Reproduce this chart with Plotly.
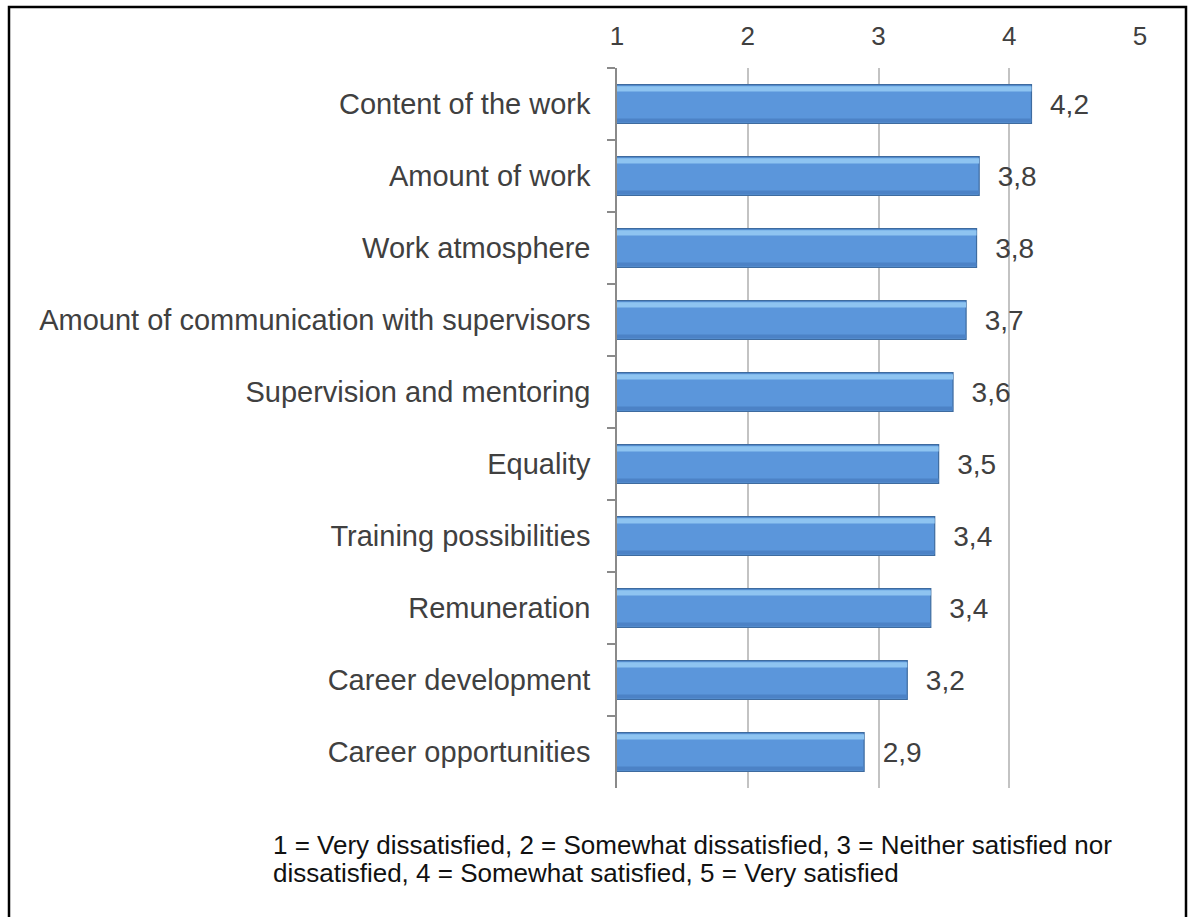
import plotly.graph_objects as go

# Satisfaction items (top to bottom) and mean scores on a 1-5 scale
categories = [
    "Content of the work",
    "Amount of work",
    "Work atmosphere",
    "Amount of communication with supervisors",
    "Supervision and mentoring",
    "Equality",
    "Training possibilities",
    "Remuneration",
    "Career development",
    "Career opportunities",
]
scores = [4.17, 3.77, 3.75, 3.67, 3.57, 3.46, 3.43, 3.40, 3.22, 2.89]

scale_ticks = [1, 2, 3, 4, 5]
footnote_lines = [
    "1 = Very dissatisfied, 2 = Somewhat dissatisfied, 3 = Neither satisfied nor",
    "dissatisfied, 4 = Somewhat satisfied, 5 = Very satisfied",
]

W, H = 1193, 917
ML, MR, MT, MB = 617, 53, 68, 129
PW, PH = W - ML - MR, H - MT - MB
PLOT_BOTTOM = H - MB

FONT = "Liberation Sans, Arial, sans-serif"
TEXT_GREY = "#404040"
BAR_W = 0.54

fig = go.Figure()

# main bar body
fig.add_trace(go.Bar(
    x=scores, y=categories, orientation="h", base=0,
    width=BAR_W, offset=-BAR_W / 2,
    marker=dict(color="#5b96db", line=dict(color="#3e6b9f", width=1.2)),
    texttemplate="\u00a0\u00a0%{x:.1f}", textposition="outside",
    textfont=dict(family=FONT, size=28, color=TEXT_GREY),
    cliponaxis=False, hoverinfo="x+y", showlegend=False,
))
# light bevel along the top edge
fig.add_trace(go.Bar(
    x=scores, y=categories, orientation="h", base=0,
    width=0.07, offset=-BAR_W / 2 + 0.025,
    marker=dict(color="#8ec4f1", line=dict(width=0)),
    hoverinfo="skip", showlegend=False,
))
# darker shade along the bottom edge
fig.add_trace(go.Bar(
    x=scores, y=categories, orientation="h", base=0,
    width=0.05, offset=BAR_W / 2 - 0.07,
    marker=dict(color="#4c82c6", line=dict(width=0)),
    hoverinfo="skip", showlegend=False,
))

# footnote explaining the scale
for i, line in enumerate(footnote_lines):
    fig.add_annotation(
        text=line, xref="paper", yref="paper",
        x=(271 - ML) / PW, y=(PLOT_BOTTOM - 845 - i * 28) / PH,
        xanchor="left", yanchor="middle", showarrow=False,
        font=dict(family=FONT, size=26, color="#111111"),
    )

# outer frame
fig.add_shape(
    type="rect", xref="paper", yref="paper",
    x0=(9 - ML) / PW, x1=(1186 - ML) / PW,
    y0=(PLOT_BOTTOM - 940) / PH, y1=1 + (MT - 7) / PH,
    line=dict(color="#000000", width=2.5), fillcolor="rgba(0,0,0,0)", layer="below",
)

fig.update_layout(
    width=W, height=H,
    margin=dict(l=ML, r=MR, t=MT, b=MB, pad=0),
    paper_bgcolor="white", plot_bgcolor="white",
    barmode="overlay", separators=",.",
    font=dict(family=FONT, color=TEXT_GREY),
    showlegend=False,
)
fig.update_xaxes(
    side="top", range=[1, 5], tickvals=scale_ticks,
    showgrid=True, gridcolor="#c3c3c3", gridwidth=1.5,
    zeroline=False, showline=False, ticks="",
    tickfont=dict(family=FONT, size=26, color=TEXT_GREY),
    ticklabelstandoff=17, fixedrange=True,
)
fig.update_yaxes(
    autorange="reversed", showline=True, linecolor="#8a8a8a", linewidth=1.5,
    ticks="outside", tickson="boundaries", ticklen=8, tickcolor="#8a8a8a", tickwidth=1.5,
    showgrid=False, tickfont=dict(family=FONT, size=29, color=TEXT_GREY),
    ticklabelstandoff=19, fixedrange=True,
)

fig.write_html("out.html", config={"displayModeBar": False})
